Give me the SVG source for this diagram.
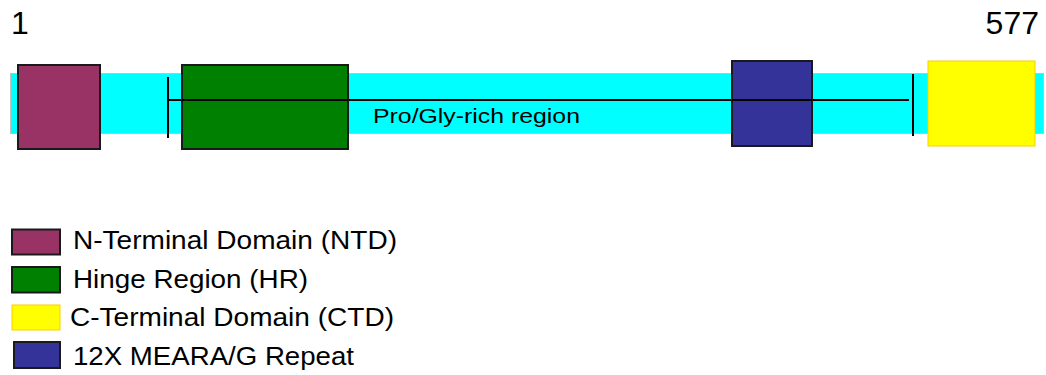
<svg xmlns="http://www.w3.org/2000/svg" width="1046" height="375" viewBox="0 0 1046 375">
<style>
text{font-family:"Liberation Sans",Arial,sans-serif;fill:#000}
.ntd{fill:#993366;stroke:#1a1a1a;stroke-width:2}
.hr{fill:#008000;stroke:#1a1a1a;stroke-width:2}
.ctd{fill:#ffff00;stroke:#ffcc00;stroke-width:1}
.rep{fill:#333399;stroke:#1a1a1a;stroke-width:2}
.ln{stroke:#000;stroke-width:2;fill:none}
.lg{font-size:25px}
</style>
<rect x="0" y="0" width="1046" height="375" fill="#fff"/>
<g id="backbone">
<rect x="10.5" y="73.5" width="1033" height="60" fill="#00ffff" stroke="#c0c0c0" stroke-width="1"/>
</g>
<g id="labels">
<text x="11" y="34" font-size="32">1</text>
<text x="1039" y="34" font-size="32" text-anchor="end">577</text>
</g>
<g id="ntd"><rect class="ntd" x="18" y="65" width="82" height="84"/></g>
<g id="connectors">
<line class="ln" x1="168" y1="77" x2="168" y2="138"/>
<line class="ln" x1="168" y1="100" x2="909" y2="100"/>
<line class="ln" x1="913" y1="74" x2="913" y2="136"/>
</g>
<g id="hr"><rect class="hr" x="182" y="65" width="166" height="84"/>
<line class="ln" x1="182" y1="100" x2="348" y2="100"/></g>
<g id="region-label"><text x="373" y="123" font-size="21" textLength="207" lengthAdjust="spacingAndGlyphs">Pro/Gly-rich region</text></g>
<g id="repeat"><rect class="rep" x="732" y="61" width="80" height="85"/>
<line class="ln" x1="732" y1="100" x2="812" y2="100"/></g>
<g id="ctd"><rect class="ctd" x="928" y="61" width="107" height="85"/></g>
<g id="legend">
<rect class="ntd" x="12" y="229.5" width="48" height="25"/>
<text class="lg" x="73" y="249" textLength="324" lengthAdjust="spacingAndGlyphs">N-Terminal Domain (NTD)</text>
<rect class="hr" x="12" y="267" width="48" height="25.5"/>
<text class="lg" x="73" y="288" textLength="235" lengthAdjust="spacingAndGlyphs">Hinge Region (HR)</text>
<rect class="ctd" x="12" y="305" width="48" height="25"/>
<text class="lg" x="70" y="326" textLength="324" lengthAdjust="spacingAndGlyphs">C-Terminal Domain (CTD)</text>
<rect class="rep" x="14" y="342" width="46" height="26"/>
<text class="lg" x="73" y="365" textLength="281" lengthAdjust="spacingAndGlyphs">12X MEARA/G Repeat</text>
</g>
</svg>
